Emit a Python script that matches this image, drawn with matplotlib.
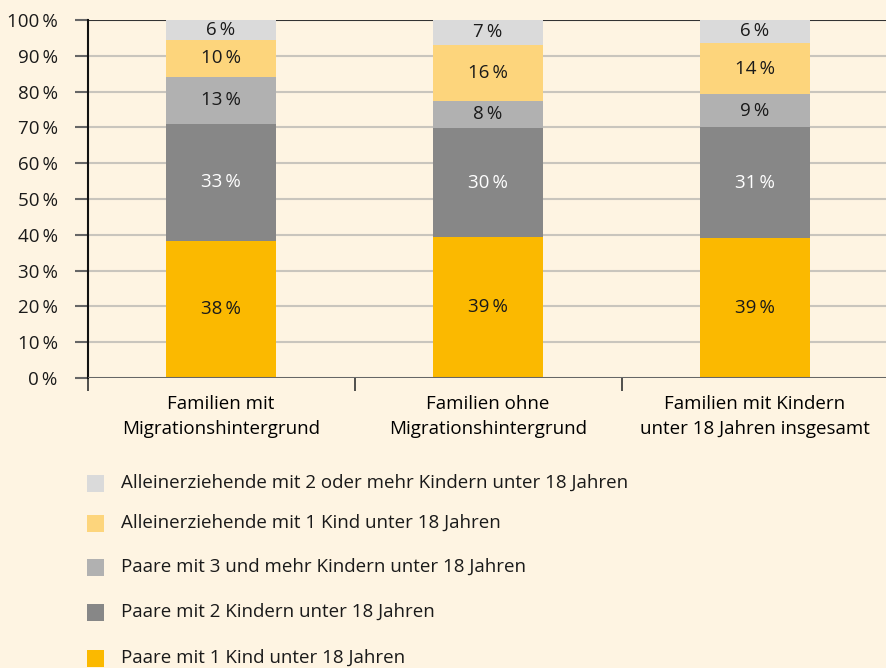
"""Stacked bars: family types by migration background."""

import matplotlib as mpl
import matplotlib.pyplot as plt
from matplotlib.patches import Rectangle

BG = "#FEF4E2"
INK = "#1A1A1A"

categories = [
    "Familien mit\nMigrationshintergrund",
    "Familien ohne\nMigrationshintergrund",
    "Familien mit Kindern\nunter 18 Jahren insgesamt",
]

# bottom to top
series_names = [
    "Paare mit 1 Kind unter 18 Jahren",
    "Paare mit 2 Kindern unter 18 Jahren",
    "Paare mit 3 und mehr Kindern unter 18 Jahren",
    "Alleinerziehende mit 1 Kind unter 18 Jahren",
    "Alleinerziehende mit 2 oder mehr Kindern unter 18 Jahren",
]
paare_1 = [38.4, 39.4, 39.2]
paare_2 = [32.6, 30.4, 30.8]
paare_3 = [13.1, 7.7, 9.2]
allein_1 = [10.3, 15.6, 14.4]
allein_2 = [5.6, 6.9, 6.4]
series_values = [paare_1, paare_2, paare_3, allein_1, allein_2]

colors = ["#FBB900", "#878787", "#B1B1B1", "#FDD57C", "#DADADA"]
label_colors = [INK, "white", INK, INK, INK]

yticks = list(range(0, 101, 10))

mpl.rcParams.update(
    {
        "font.family": ["Open Sans", "DejaVu Sans"],
        "font.size": 13,
        "text.color": INK,
        "figure.facecolor": BG,
        "savefig.facecolor": BG,
    }
)


def draw():
    fig = plt.figure(figsize=(8.86, 6.68), dpi=100)
    ax = fig.add_axes([87.5 / 886, 1 - 378 / 668, 801 / 886, 358 / 668])
    ax.set_facecolor(BG)

    x = range(len(categories))
    bottom = [0.0] * len(categories)
    for vals, col, lcol in zip(series_values, colors, label_colors):
        ax.bar(x, vals, bottom=bottom, width=0.41, color=col, zorder=2)
        for i, v in enumerate(vals):
            ax.text(i, bottom[i] + v / 2, f"{v:.0f}\u2009%", ha="center", va="center",
                    color=lcol, fontsize=13.5, zorder=3)
        bottom = [b + v for b, v in zip(bottom, vals)]

    ax.set_xlim(-0.5, 2.5)
    ax.set_ylim(0, 100)

    ax.set_yticks(yticks)
    ax.set_yticklabels([f"{t}\u2009%" for t in yticks])
    ax.tick_params(axis="y", length=9.5, width=1.5, color="#666666", pad=12,
                   labelsize=13.5, labelcolor=INK)
    for t in yticks[1:-1]:
        ax.axhline(t, color="#C9C5BD", lw=1.5, zorder=1)
    ax.axhline(100, color="#333333", lw=1.5, zorder=1)
    ax.axhline(0, color="#666666", lw=2.2, zorder=4)

    ax.set_xticks([-0.5, 0.5, 1.5, 2.5])
    ax.set_xticklabels([])
    ax.set_xticks(list(x), minor=True)
    ax.set_xticklabels(categories, minor=True, fontsize=13.5, linespacing=1.55)
    ax.tick_params(axis="x", which="major", direction="out", length=9.5,
                   width=1.2, color="#333333")
    ax.tick_params(axis="x", which="minor", length=0, pad=12)

    for side in ("top", "right", "bottom"):
        ax.spines[side].set_visible(False)
    ax.spines["left"].set_color("#111111")
    ax.spines["left"].set_linewidth(1.5)
    ax.spines["left"].set_bounds(0, 100)

    # legend, top item = top segment
    W, H = 886, 668
    row_y = [483, 523, 567, 612, 658]
    for yy, name, col in zip(row_y, series_names[::-1], colors[::-1]):
        fig.add_artist(Rectangle((87 / W, 1 - (yy + 8.5) / H), 17 / W, 17 / H,
                                 transform=fig.transFigure, facecolor=col,
                                 edgecolor="none"))
        fig.text(121 / W, 1 - yy / H, name, ha="left", va="center",
                 fontsize=13.5, color=INK)

    fig.savefig("out.png", dpi=100)
    plt.close(fig)


if __name__ == "__main__":
    draw()
